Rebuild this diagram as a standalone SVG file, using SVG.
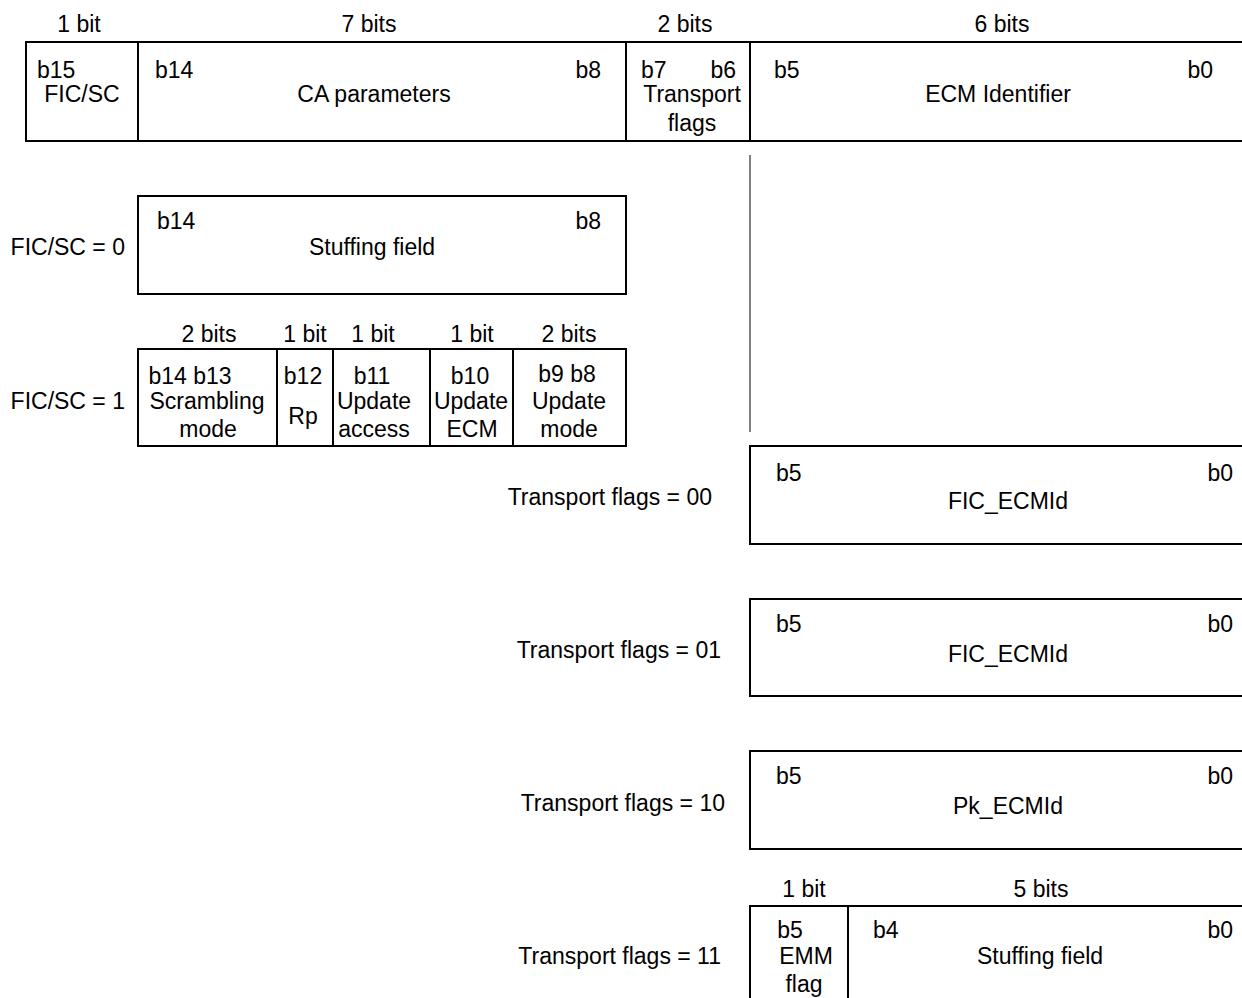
<svg xmlns="http://www.w3.org/2000/svg" width="1242" height="998" viewBox="0 0 1242 998">
<style>
text{font-family:"Liberation Sans",Arial,sans-serif;font-size:23px;fill:#000}
.m{text-anchor:middle}
.e{text-anchor:end}
.b{fill:none;stroke:#000;stroke-width:2}
.g{stroke:#808080;stroke-width:2}
</style>
<rect width="1242" height="998" fill="#fff"/>
<g id="header">
<text class="m" x="79" y="32">1 bit</text>
<text class="m" x="369" y="32">7 bits</text>
<text class="m" x="685" y="32">2 bits</text>
<text class="m" x="1002" y="32">6 bits</text>
<rect class="b" x="26" y="42" width="1230" height="99"/>
<line class="b" x1="138" y1="42" x2="138" y2="141"/>
<line class="b" x1="626" y1="42" x2="626" y2="141"/>
<line class="b" x1="750" y1="42" x2="750" y2="141"/>
<text x="37" y="78">b15</text>
<text class="m" x="82" y="102">FIC/SC</text>
<text x="155" y="78">b14</text>
<text class="e" x="601" y="78">b8</text>
<text class="m" x="374" y="102">CA parameters</text>
<text x="641" y="78">b7</text>
<text class="e" x="736" y="78">b6</text>
<text class="m" x="692" y="102">Transport</text>
<text class="m" x="692" y="131">flags</text>
<text x="774" y="78">b5</text>
<text class="e" x="1213" y="78">b0</text>
<text class="m" x="998" y="102">ECM Identifier</text>
</g>
<g id="connectors">
<line class="g" x1="750" y1="155" x2="750" y2="432"/>
</g>
<g id="fic0">
<text class="e" x="125" y="255">FIC/SC = 0</text>
<rect class="b" x="138" y="196" width="488" height="98"/>
<text x="157" y="229">b14</text>
<text class="e" x="601" y="229">b8</text>
<text class="m" x="372" y="255">Stuffing field</text>
</g>
<g id="fic1">
<text class="m" x="209" y="342">2 bits</text>
<text class="m" x="305" y="342">1 bit</text>
<text class="m" x="373" y="342">1 bit</text>
<text class="m" x="472" y="342">1 bit</text>
<text class="m" x="569" y="342">2 bits</text>
<text class="e" x="125" y="409">FIC/SC = 1</text>
<rect class="b" x="138" y="349" width="488" height="97"/>
<line class="b" x1="277" y1="349" x2="277" y2="446"/>
<line class="b" x1="333" y1="349" x2="333" y2="446"/>
<line class="b" x1="430" y1="349" x2="430" y2="446"/>
<line class="b" x1="513" y1="349" x2="513" y2="446"/>
<text class="m" x="190" y="384">b14 b13</text>
<text class="m" x="207" y="409">Scrambling</text>
<text class="m" x="208" y="437">mode</text>
<text class="m" x="303" y="384">b12</text>
<text class="m" x="303" y="424">Rp</text>
<text class="m" x="372" y="384">b11</text>
<text class="m" x="374" y="409">Update</text>
<text class="m" x="374" y="437">access</text>
<text class="m" x="470" y="384">b10</text>
<text class="m" x="471" y="409">Update</text>
<text class="m" x="472" y="437">ECM</text>
<text class="m" x="567" y="382">b9 b8</text>
<text class="m" x="569" y="409">Update</text>
<text class="m" x="569" y="437">mode</text>
</g>
<g id="tf00">
<text class="e" x="712" y="505">Transport flags = 00</text>
<rect class="b" x="750" y="446" width="510" height="98"/>
<text x="776" y="481">b5</text>
<text class="e" x="1233" y="481">b0</text>
<text class="m" x="1008" y="509">FIC_ECMId</text>
</g>
<g id="tf01">
<text class="e" x="721" y="658">Transport flags = 01</text>
<rect class="b" x="750" y="599" width="510" height="97"/>
<text x="776" y="632">b5</text>
<text class="e" x="1233" y="632">b0</text>
<text class="m" x="1008" y="662">FIC_ECMId</text>
</g>
<g id="tf10">
<text class="e" x="725" y="811">Transport flags = 10</text>
<rect class="b" x="750" y="751" width="510" height="98"/>
<text x="776" y="784">b5</text>
<text class="e" x="1233" y="784">b0</text>
<text class="m" x="1008" y="814">Pk_ECMId</text>
</g>
<g id="tf11">
<text class="m" x="804" y="897">1 bit</text>
<text class="m" x="1041" y="897">5 bits</text>
<text class="e" x="721" y="964">Transport flags = 11</text>
<rect class="b" x="750" y="906" width="510" height="120"/>
<line class="b" x1="848" y1="906" x2="848" y2="1000"/>
<text class="m" x="790" y="938">b5</text>
<text class="m" x="806" y="964">EMM</text>
<text class="m" x="804" y="992">flag</text>
<text x="873" y="938">b4</text>
<text class="e" x="1233" y="938">b0</text>
<text class="m" x="1040" y="964">Stuffing field</text>
</g>
</svg>
